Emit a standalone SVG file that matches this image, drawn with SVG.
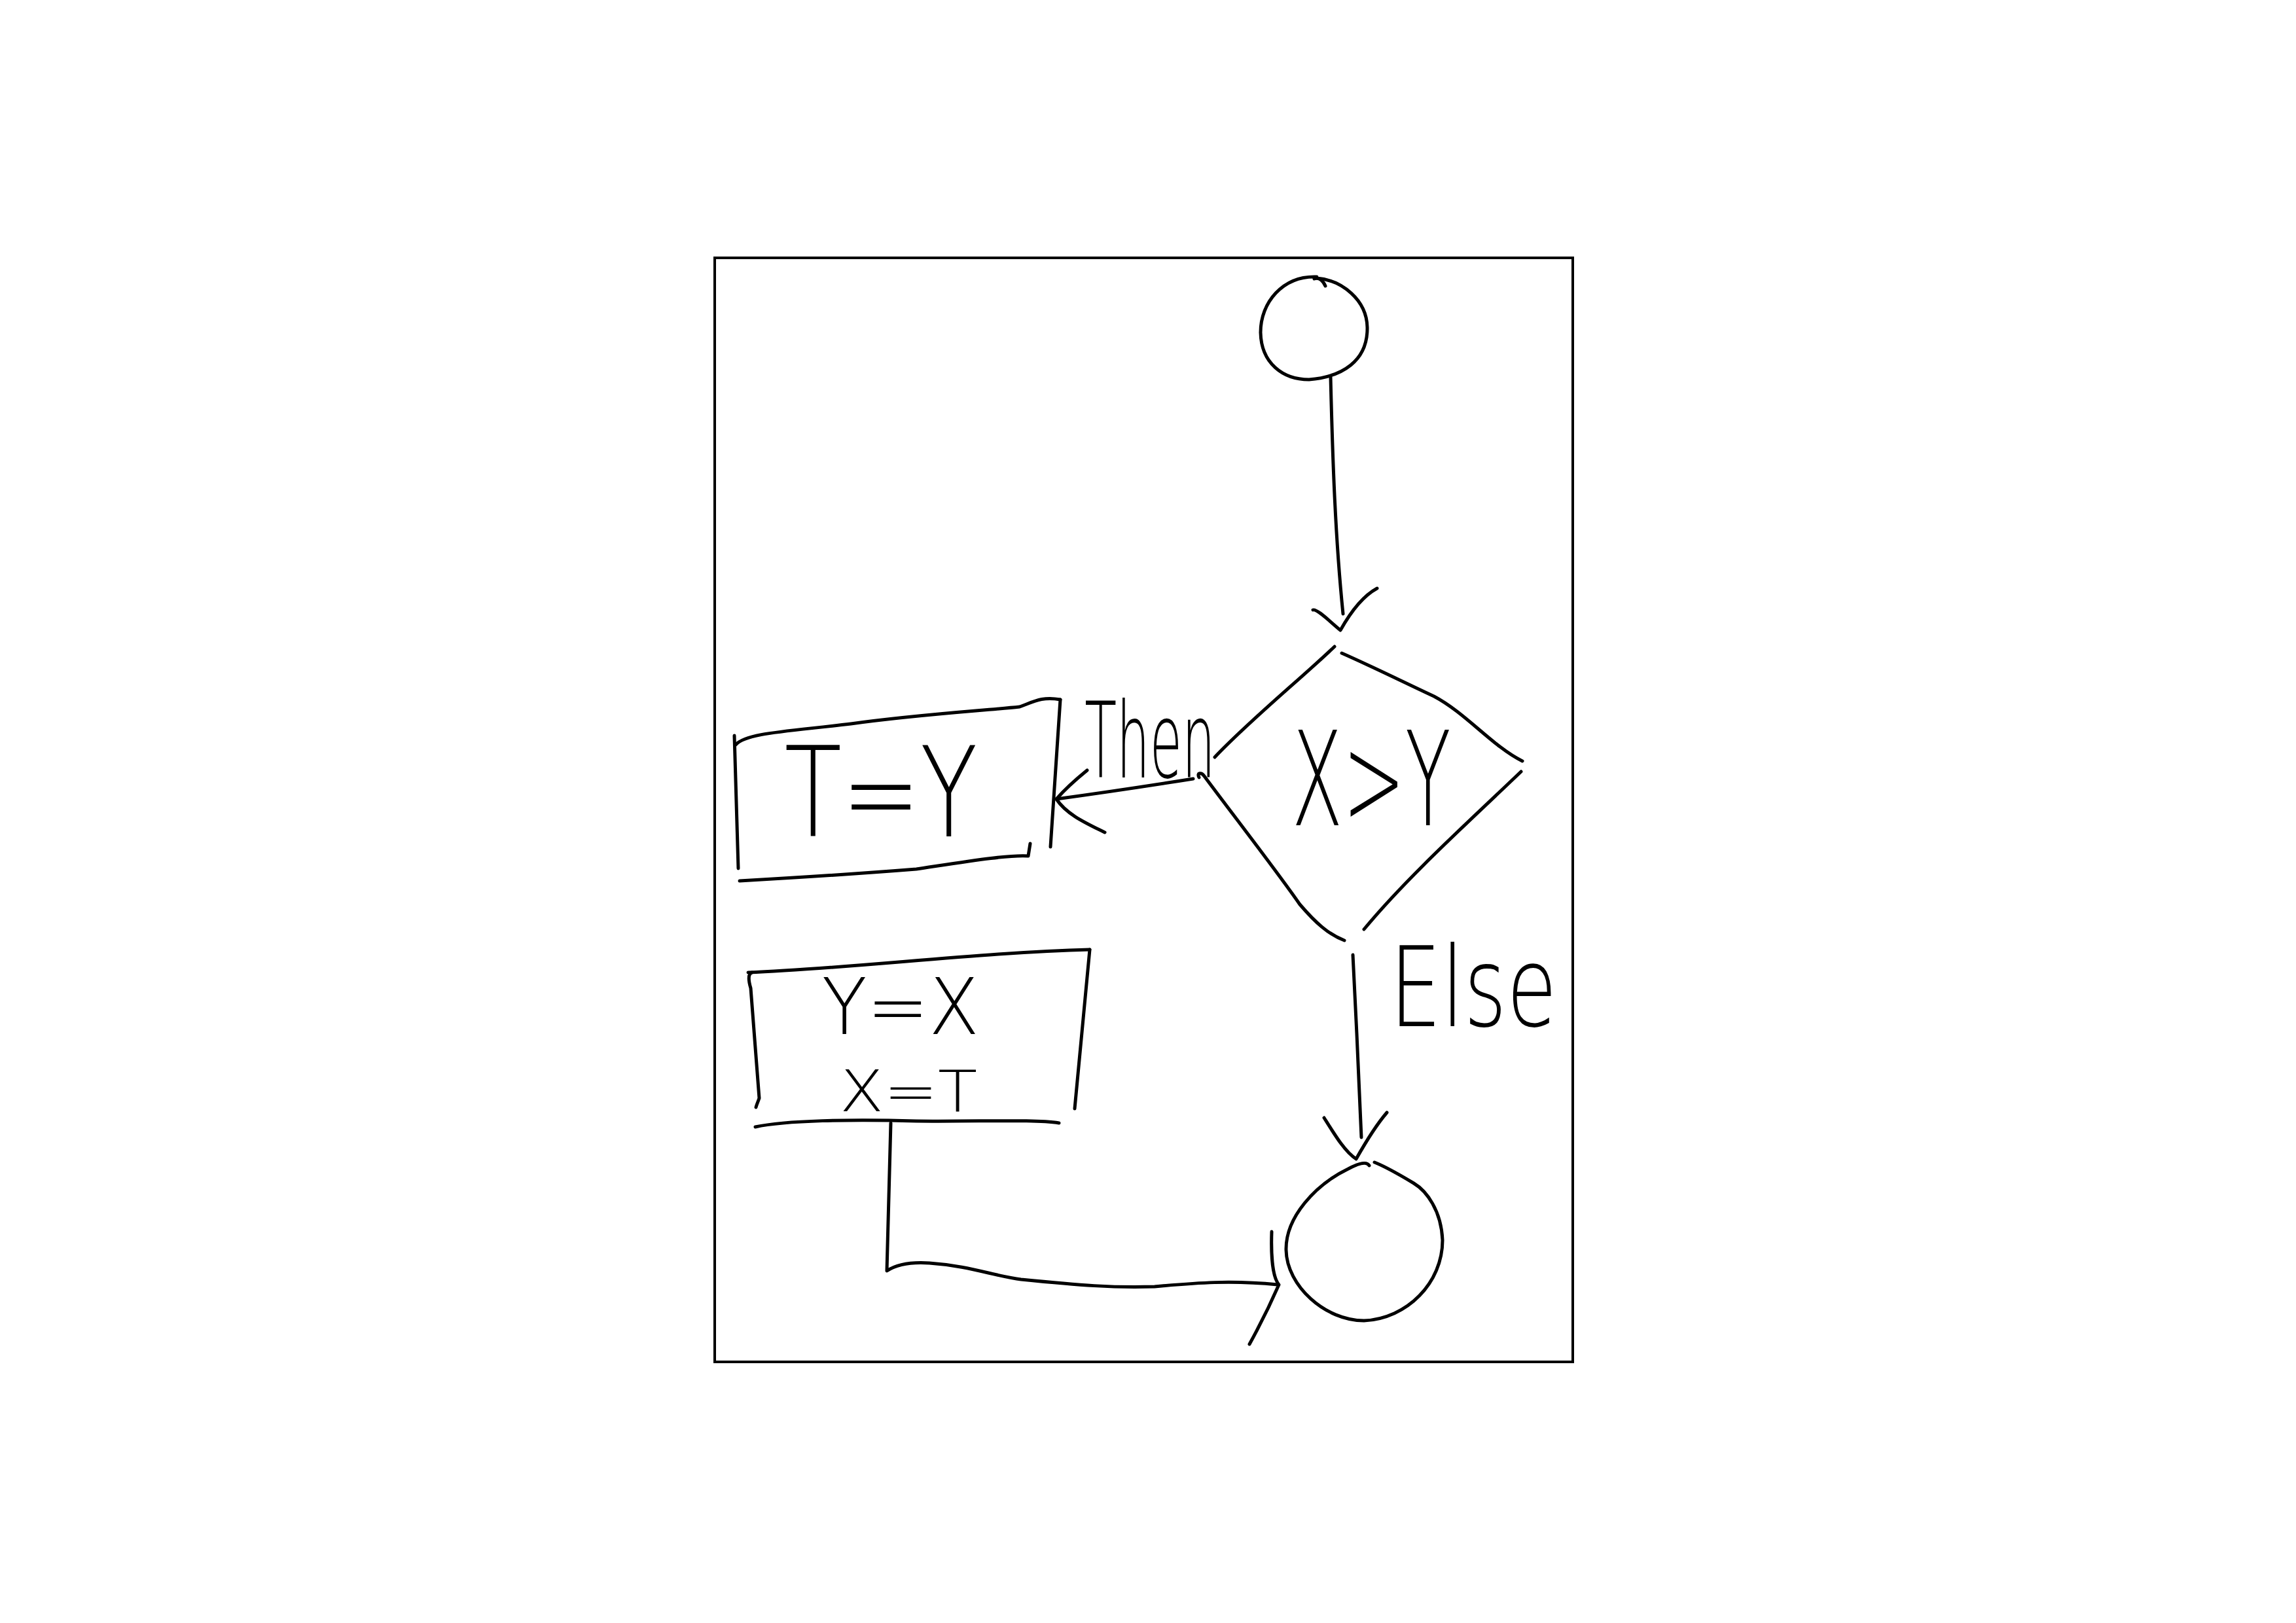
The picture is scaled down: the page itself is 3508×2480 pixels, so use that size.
<svg xmlns="http://www.w3.org/2000/svg" width="3508" height="2480" viewBox="0 0 3508 2480">
  <style>
    .ink { fill: none; stroke: #000; stroke-width: 5; stroke-linecap: round; stroke-linejoin: round; }
    .frame { fill: none; stroke: #000; stroke-width: 4; }
    .hw { font-family: "DejaVu Sans ExtraLight", "DejaVu Sans", "Liberation Sans", sans-serif; font-weight: 200; fill: #000; text-anchor: middle; }
  </style>
  <rect width="3508" height="2480" fill="#fff"/>
  <rect class="frame" x="1092" y="394" width="1311" height="1687"/>

  <g id="connectors">
    <g id="edge-start-decision">
      <path class="ink" d="M2033,576 C2036,700 2040,820 2052,938"/>
      <path class="ink" d="M2006,932 C2012,930 2030,948 2048,963 C2062,938 2080,912 2104,899"/>
    </g>
    <g id="edge-then">
      <path class="ink" d="M1823,1190 C1760,1200 1680,1212 1614,1221"/>
      <path class="ink" d="M1661,1177 C1645,1190 1628,1205 1614,1221 C1630,1245 1660,1258 1688,1272"/>
      <text class="hw" transform="translate(1757,1188) scale(0.5,1)" font-size="160">Then</text>
    </g>
    <g id="edge-else">
      <path class="ink" d="M2067,1459 C2072,1550 2076,1650 2080,1738"/>
      <path class="ink" d="M2023,1708 C2040,1735 2055,1760 2072,1771 C2085,1748 2100,1722 2119,1700"/>
      <text class="hw" transform="translate(2251,1568) scale(0.735,1)" font-size="170">Else</text>
    </g>
    <g id="edge-swap-end">
      <path class="ink" d="M1361,1716 L1355,1942 C1370,1932 1390,1928 1420,1930 C1480,1934 1520,1950 1560,1955 C1650,1964 1700,1968 1764,1966 C1830,1960 1880,1956 1952,1963"/>
      <path class="ink" d="M1943,1882 C1942,1910 1943,1950 1954,1963 C1940,1995 1925,2025 1909,2054"/>
    </g>
  </g>

  <g id="start">
    <path class="ink" d="M2012,423 C1960,421 1926,462 1926,508 C1927,555 1960,580 2000,580 C2050,576 2090,552 2089,500 C2088,458 2050,428 2012,425"/>
    <path class="ink" d="M2008,426 C2016,423 2022,430 2025,437"/>
  </g>

  <g id="decision">
    <path class="ink" d="M2039,988 C1990,1035 1910,1100 1856,1157"/>
    <path class="ink" d="M2050,998 C2100,1020 2150,1045 2191,1064 C2240,1090 2280,1140 2326,1163"/>
    <path class="ink" d="M2324,1179 C2250,1250 2150,1340 2084,1420"/>
    <path class="ink" d="M1832,1188 C1828,1180 1836,1180 1840,1186 C1880,1240 1950,1330 1986,1382 C2010,1410 2030,1428 2054,1437"/>
    <text class="hw" transform="translate(2095,1261) scale(0.57,1)" font-size="200">X&gt;Y</text>
  </g>

  <g id="then-box">
    <path class="ink" d="M1122,1124 L1128,1327"/>
    <path class="ink" d="M1124,1138 C1140,1120 1200,1118 1300,1106 C1400,1092 1500,1086 1558,1080 C1580,1072 1592,1064 1620,1069"/>
    <path class="ink" d="M1620,1069 L1605,1294"/>
    <path class="ink" d="M1130,1346 C1200,1342 1300,1336 1400,1328 C1480,1316 1540,1306 1571,1308 L1574,1289"/>
    <text class="hw" transform="translate(1346,1278) scale(0.754,1)" font-size="190">T=Y</text>
  </g>

  <g id="swap-box">
    <path class="ink" d="M1143,1486 C1300,1480 1500,1455 1665,1451"/>
    <path class="ink" d="M1665,1451 L1642,1694"/>
    <path class="ink" d="M1149,1486 C1142,1488 1144,1500 1147,1510 L1160,1678 C1158,1684 1156,1688 1155,1692"/>
    <path class="ink" d="M1154,1722 C1200,1712 1300,1710 1400,1713 C1500,1714 1580,1710 1618,1716"/>
    <text class="hw" transform="translate(1376,1580) scale(0.94,1)" font-size="120">Y=X</text>
    <text class="hw" transform="translate(1388,1698) scale(1.12,1)" font-size="88">X=T</text>
  </g>

  <g id="end">
    <path class="ink" d="M2092,1781 C2088,1774 2075,1778 2060,1786 C2010,1810 1964,1860 1965,1910 C1966,1965 2025,2018 2084,2018 C2150,2015 2204,1960 2204,1895 C2202,1850 2180,1820 2160,1808 C2130,1790 2110,1780 2100,1776"/>
  </g>
</svg>
